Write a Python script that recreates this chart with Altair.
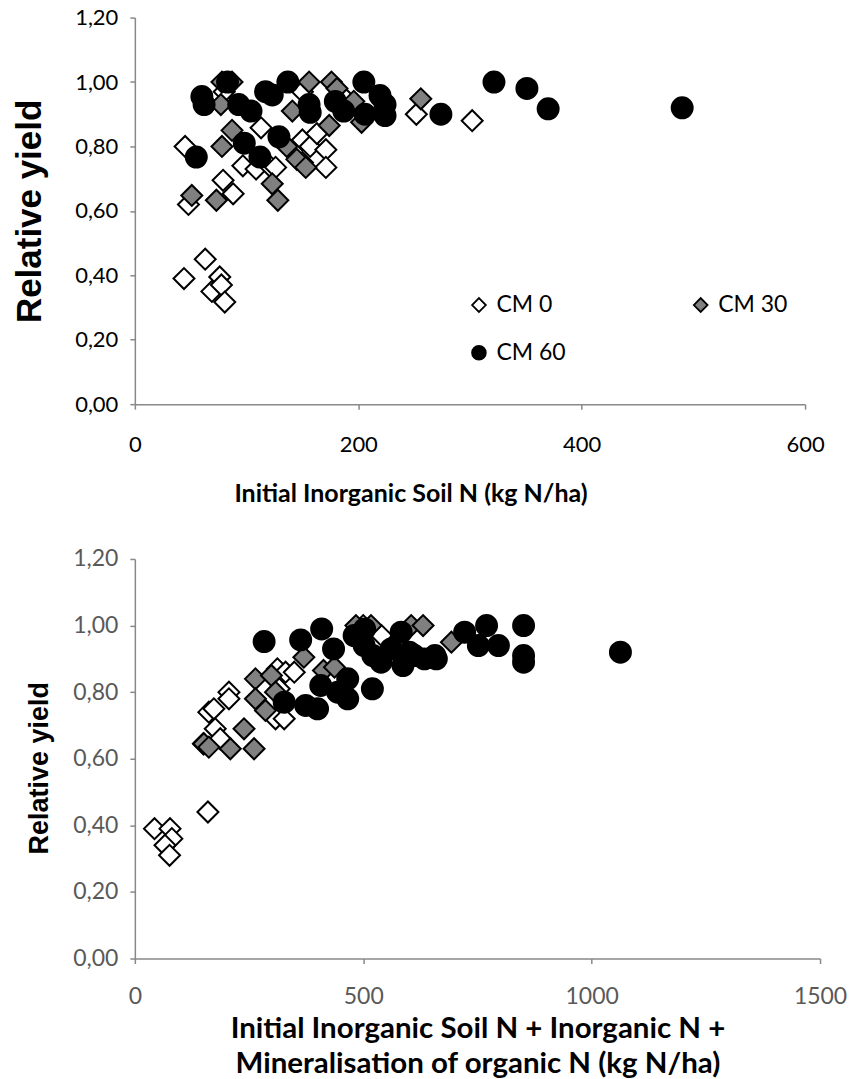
import altair as alt
import pandas as pd

series_names = ["CM 0", "CM 30", "CM 60"]

# ---- Top chart: Initial Inorganic Soil N ----
top_cm0_x = [44, 45, 48, 63, 69, 76, 77.5, 80.5, 79, 88, 96.7, 108.5, 113, 122, 126, 150, 150, 157, 163, 171, 171, 252, 302, 150, 185, 80]
top_cm0_y = [0.39, 0.80, 0.62, 0.45, 0.35, 0.395, 0.37, 0.317, 0.695, 0.653, 0.74, 0.73, 0.858, 0.735, 0.735, 0.82, 0.75, 0.80, 0.84, 0.79, 0.735, 0.90, 0.88, 0.97, 0.96, 0.97]

top_cm30_x = [51, 73, 77, 78, 78, 87, 87, 123, 128, 136, 141, 145, 153, 156, 176, 181, 174, 196, 203, 256]
top_cm30_y = [0.648, 0.633, 0.93, 1.00, 0.80, 1.00, 0.85, 0.684, 0.633, 0.80, 0.91, 0.76, 0.735, 1.00, 1.00, 0.98, 0.865, 0.94, 0.875, 0.948]

top_cm60_x = [55, 60, 62, 83, 93, 104, 98, 112, 117, 123, 129, 137, 156, 157, 205, 219.5, 224, 206, 224, 179.5, 187, 274, 321.5, 351, 370, 490]
top_cm60_y = [0.767, 0.955, 0.93, 1.00, 0.93, 0.91, 0.81, 0.767, 0.97, 0.96, 0.83, 1.00, 0.93, 0.906, 1.00, 0.958, 0.93, 0.90, 0.896, 0.94, 0.91, 0.90, 1.00, 0.98, 0.917, 0.92]

# ---- Bottom chart: total N supply ----
bot_cm0_x = [43, 77, 81, 66, 76, 160, 150, 162, 173, 176, 187, 206, 206, 312, 330, 349, 316, 308, 327, 500, 540]
bot_cm0_y = [0.39, 0.39, 0.36, 0.34, 0.31, 0.44, 0.645, 0.74, 0.75, 0.69, 0.66, 0.80, 0.78, 0.87, 0.86, 0.86, 0.81, 0.72, 0.72, 1.00, 0.97]

bot_cm30_x = [151, 162, 209, 239, 261, 264, 264, 286, 299, 308, 370, 413, 437, 484, 517, 605, 631, 693]
bot_cm30_y = [0.645, 0.635, 0.63, 0.69, 0.63, 0.84, 0.78, 0.745, 0.85, 0.80, 0.905, 0.865, 0.875, 1.00, 1.00, 1.00, 1.00, 0.95]

bot_cm60_x = [283, 363, 409, 435, 488, 503, 466, 407, 444, 374, 466, 327, 520, 480, 502, 539, 587, 634, 657, 601, 612, 561, 521, 583, 400, 770, 851, 722, 752, 796, 851, 851, 660, 1063]
bot_cm60_y = [0.952, 0.957, 0.99, 0.93, 0.97, 0.99, 0.84, 0.82, 0.80, 0.76, 0.78, 0.77, 0.81, 0.97, 0.94, 0.89, 0.88, 0.90, 0.91, 0.92, 0.91, 0.93, 0.91, 0.98, 0.75, 1.00, 1.00, 0.98, 0.94, 0.94, 0.91, 0.89, 0.90, 0.92]


def frame(xs_list, ys_list):
    rows = []
    for i, (xs, ys) in enumerate(zip(xs_list, ys_list)):
        for x, y in zip(xs, ys):
            rows.append({"x": x, "y": y, "series": series_names[i], "ord": i})
    return pd.DataFrame(rows)


top_df = frame([top_cm0_x, top_cm30_x, top_cm60_x], [top_cm0_y, top_cm30_y, top_cm60_y])
bot_df = frame([bot_cm0_x, bot_cm30_x, bot_cm60_x], [bot_cm0_y, bot_cm30_y, bot_cm60_y])

LABEL_FONT = "Lato"
AXIS_GRAY = "#898989"
comma_fmt = "replace(format(datum.value, '.2f'), '.', ',')"

shape_scale = alt.Scale(domain=series_names, range=["diamond", "diamond", "circle"])
fill_scale = alt.Scale(domain=series_names, range=["#ffffff", "#808080", "#000000"])
stroke_scale = alt.Scale(domain=series_names, range=["#000000", "#000000", "#000000"])


def y_axis(title_font_size, title_x, label_color, label_size, title_y=None):
    kw = {}
    if title_y is not None:
        kw["titleY"] = title_y
    return alt.Axis(
        values=[0, 0.2, 0.4, 0.6, 0.8, 1.0, 1.2],
        labelExpr=comma_fmt,
        title="Relative yield",
        titleFont="Liberation Sans",
        titleFontWeight="bold",
        titleFontSize=title_font_size,
        titleColor="#000000",
        titleX=title_x,
        grid=False,
        domainColor=AXIS_GRAY,
        domainWidth=1.5,
        tickColor=AXIS_GRAY,
        tickWidth=1.5,
        tickSize=5,
        labelFont=LABEL_FONT,
        labelFontSize=label_size,
        labelColor=label_color,
        labelPadding=12,
        labelFlush=False,
        **kw,
    )


legend = alt.Legend(
    title=None,
    orient="none",
    direction="horizontal",
    legendX=333,
    legendY=276,
    columns=2,
    columnPadding=123,
    rowPadding=24,
    symbolSize=190,
    symbolStrokeWidth=1.8,
    labelFont=LABEL_FONT,
    labelFontSize=23,
    labelColor="#000000",
    labelOffset=6,
    padding=0,
)

top = alt.Chart(top_df).mark_point(
    filled=True, size=441, strokeWidth=2, opacity=1
).encode(
    x=alt.X(
        "x:Q",
        scale=alt.Scale(domain=[0, 600], nice=False, zero=True),
        axis=alt.Axis(
            values=[0, 200, 400, 600],
            format="d",
            title="Initial Inorganic Soil N (kg N/ha)",
            titleFont=LABEL_FONT,
            titleFontWeight="bold",
            titleFontSize=25,
            titleColor="#000000",
            titleX=276,
            titleAlign="center",
            titlePadding=26,
            grid=False,
            domainColor=AXIS_GRAY,
            domainWidth=1.5,
            tickColor=AXIS_GRAY,
            tickWidth=1.5,
            tickSize=5,
            labelFont=LABEL_FONT,
            labelFontSize=22,
            labelColor="#000000",
            labelPadding=25,
            labelFlush=False,
        ),
    ),
    y=alt.Y("y:Q", scale=alt.Scale(domain=[0, 1.2], nice=False),
            axis=y_axis(35, -87, "#000000", 22)),
    shape=alt.Shape("series:N", scale=shape_scale, legend=legend),
    fill=alt.Fill("series:N", scale=fill_scale, legend=legend),
    stroke=alt.Stroke("series:N", scale=stroke_scale, legend=legend),
    order=alt.Order("ord:Q"),
).properties(width=671, height=387)

bottom = alt.Chart(bot_df).mark_point(
    filled=True, size=441, strokeWidth=2, opacity=1
).encode(
    x=alt.X(
        "x:Q",
        scale=alt.Scale(domain=[0, 1500], nice=False, zero=True),
        axis=alt.Axis(
            values=[0, 500, 1000, 1500],
            format="d",
            title=["Initial Inorganic Soil N + Inorganic N +", "Mineralisation of organic N (kg N/ha)"],
            titleFont=LABEL_FONT,
            titleFontWeight="bold",
            titleFontSize=29.5,
            titleColor="#000000",
            titleLineHeight=35,
            titlePadding=6,
            grid=False,
            domainColor=AXIS_GRAY,
            domainWidth=1.5,
            tickColor=AXIS_GRAY,
            tickWidth=1.5,
            tickSize=5,
            labelFont=LABEL_FONT,
            labelFontSize=23,
            labelColor="#595959",
            labelPadding=22,
            labelFlush=False,
        ),
    ),
    y=alt.Y("y:Q", scale=alt.Scale(domain=[0, 1.2], nice=False),
            axis=y_axis(27, -81, "#595959", 23, title_y=209)),
    shape=alt.Shape("series:N", scale=shape_scale, legend=None),
    fill=alt.Fill("series:N", scale=fill_scale, legend=None),
    stroke=alt.Stroke("series:N", scale=stroke_scale, legend=None),
    order=alt.Order("ord:Q"),
).properties(width=686, height=400)

chart = alt.vconcat(top, bottom, spacing=42).resolve_legend(
    shape="independent", fill="independent", stroke="independent"
).resolve_scale(shape="independent", fill="independent", stroke="independent").properties(
    padding={"left": 13, "top": 6, "right": 10, "bottom": 5},
    background="#ffffff",
).configure_view(stroke=None)

chart.save("out.html", embed_options={"renderer": "svg", "actions": False})
